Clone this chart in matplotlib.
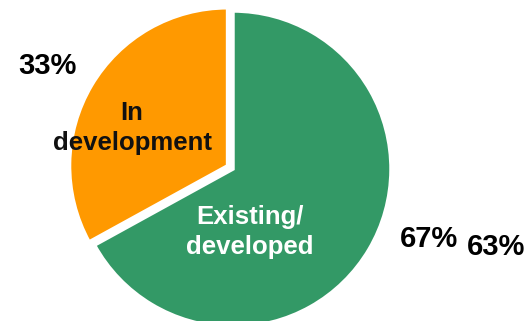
import matplotlib
matplotlib.use("Agg")
import matplotlib.pyplot as plt

categories = ["Existing/\ndeveloped", "In\ndevelopment"]
values = [67, 33]
pct_labels = ["67%", "33%"]
extra_label = "63%"
colors = ["#339966", "#FF9900"]

plt.rcParams['font.family'] = ['Liberation Sans', 'DejaVu Sans']

W, H = 532, 321
fig = plt.figure(figsize=(W / 100, H / 100), dpi=100)
ax = fig.add_axes([0, 0, 1, 1])

wedges, _ = ax.pie(values, colors=colors, startangle=90, counterclock=False,
                   explode=[0, 0.04],
                   wedgeprops=dict(edgecolor="white", linewidth=2.5))

cx, cy, r = 233, 169, 158
ax.set_aspect('auto')
ax.set_xlim(-cx / r, (W - cx) / r)
ax.set_ylim(-(H - cy) / r, cy / r)
ax.axis('off')

def px(x, y):
    return ((x - cx) / r, (cy - y) / r)

fs = 18.5
ax.text(*px(250, 232), categories[0], ha='center', va='center', color='white',
        fontsize=fs, fontweight='bold', linespacing=1.3)
ax.text(*px(132, 128), categories[1], ha='center', va='center', color='#111111',
        fontsize=fs, fontweight='bold', linespacing=1.3)

ax.text(*px(429, 239), pct_labels[0], ha='center', va='center', color='black',
        fontsize=21, fontweight='bold')
ax.text(*px(47, 66), pct_labels[1], ha='center', va='center', color='black',
        fontsize=21, fontweight='bold')
ax.text(*px(496, 247), extra_label, ha='center', va='center', color='black',
        fontsize=21, fontweight='bold')

fig.savefig("out.png", dpi=100, facecolor='white')
